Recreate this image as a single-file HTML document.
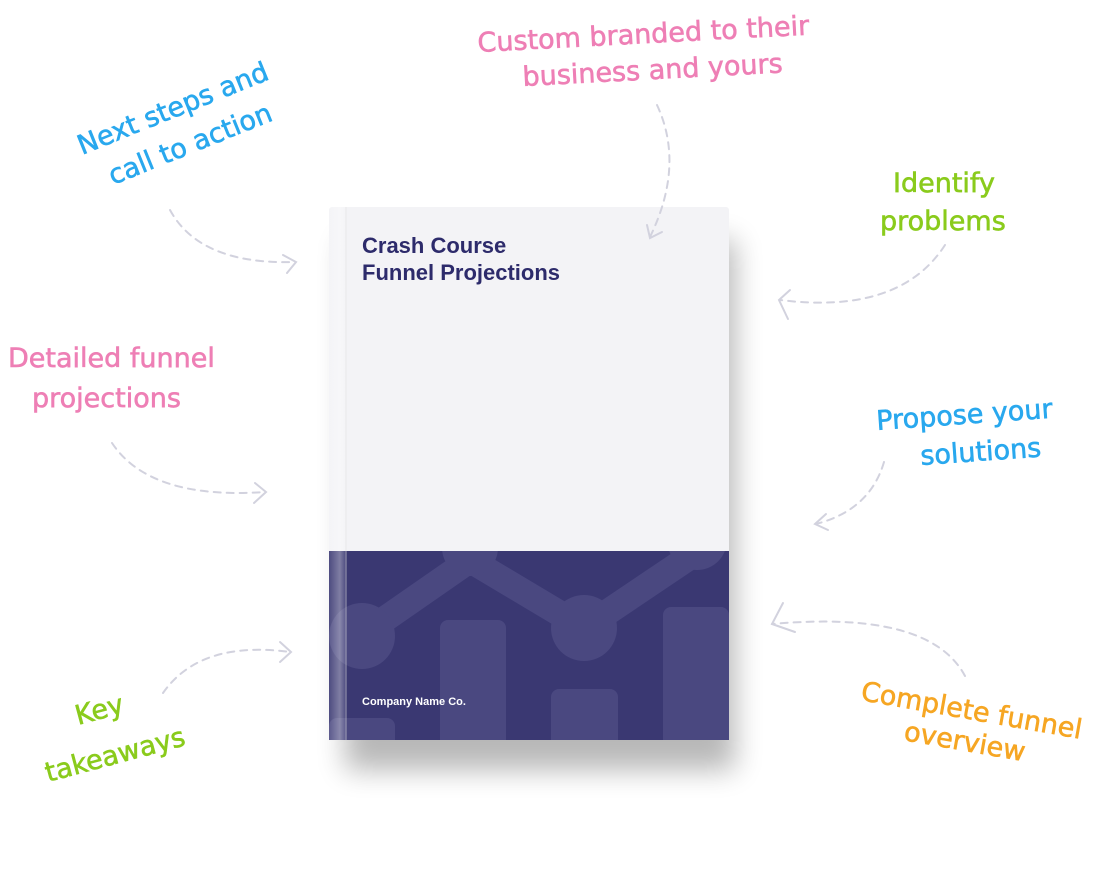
<!DOCTYPE html>
<html><head><style>
body{margin:0;background:#fff;width:1119px;height:891px;overflow:hidden}
svg{display:block}
.h{font-family:"DejaVu Sans","Liberation Sans",sans-serif;font-size:27px;font-weight:normal;stroke-width:0.6}
</style></head><body>
<svg width="1119" height="891" viewBox="0 0 1119 891">
<defs>
<filter id="sh" x="-30%" y="-20%" width="160%" height="150%"><feGaussianBlur stdDeviation="14"/></filter>
<clipPath id="nv"><rect x="329" y="551" width="400" height="189"/></clipPath>
<linearGradient id="sp" x1="0" x2="1"><stop offset="0" stop-color="#fff" stop-opacity="0.1"/><stop offset="0.6" stop-color="#fff" stop-opacity="0.35"/><stop offset="1" stop-color="#fff" stop-opacity="0.05"/></linearGradient>
</defs>
<rect x="345" y="240" width="390" height="530" fill="#000" opacity="0.28" filter="url(#sh)"/>
<rect x="329" y="207" width="400" height="533" rx="3" fill="#f3f3f6"/>
<rect x="329" y="551" width="400" height="189" fill="#3a3872"/>
<g clip-path="url(#nv)" fill="#4a4880" stroke="none">
<polyline points="362,635 470,560 584,628 697,552" fill="none" stroke="#4a4880" stroke-width="26"/>
<circle cx="362" cy="636" r="33"/><circle cx="584" cy="628" r="33"/><circle cx="470" cy="548" r="28"/><circle cx="697" cy="540" r="30"/>
<rect x="440" y="620" width="66" height="140" rx="8"/>
<rect x="551" y="689" width="67" height="70" rx="8"/>
<rect x="663" y="607" width="66" height="150" rx="8"/>
<rect x="329" y="718" width="66" height="40" rx="8"/>
</g>
<rect x="329" y="207" width="18" height="533" fill="url(#sp)"/>
<line x1="346" y1="207" x2="346" y2="740" stroke="#ddd" stroke-width="1" opacity="0.5"/>
<text x="362" y="253" font-family="Liberation Sans,sans-serif" font-weight="bold" font-size="22" fill="#2d2b6b">Crash Course</text>
<text x="362" y="280" font-family="Liberation Sans,sans-serif" font-weight="bold" font-size="22" fill="#2d2b6b">Funnel Projections</text>
<text x="362" y="705" font-family="Liberation Sans,sans-serif" font-weight="bold" font-size="11" fill="#fff">Company Name Co.</text>

<g fill="none" stroke="#d2d2de" stroke-width="2" stroke-dasharray="7 6" stroke-linecap="round">
<path d="M170 210 Q200 265 295 262"/><path d="M283 255 L296 262 L287 273" stroke-dasharray="none"/>
<path d="M657 105 Q685 165 650 237"/><path d="M647 225 L650 238 L662 232" stroke-dasharray="none"/>
<path d="M945 245 Q900 315 780 300"/><path d="M790 290 L779 300 L788 319" stroke-dasharray="none"/>
<path d="M112 443 Q150 500 265 492"/><path d="M255 483 L266 492 L254 503" stroke-dasharray="none"/>
<path d="M884 462 Q870 510 816 524"/><path d="M826 514 L815 524 L828 530" stroke-dasharray="none"/>
<path d="M163 693 Q200 640 290 652"/><path d="M280 642 L291 652 L280 662" stroke-dasharray="none"/>
<path d="M965 676 Q930 610 772 624"/><path d="M783 603 L772 624 L795 632" stroke-dasharray="none"/>
</g>

<g class="h">
<text fill="#29a8ee" stroke="#29a8ee" transform="translate(82,155) rotate(-22)">Next steps and</text>
<text fill="#29a8ee" stroke="#29a8ee" transform="translate(113,185) rotate(-22)">call to action</text>
<text fill="#ee7fb5" stroke="#ee7fb5" transform="translate(478,52) rotate(-3)">Custom branded to their</text>
<text fill="#ee7fb5" stroke="#ee7fb5" transform="translate(523,86) rotate(-3)">business and yours</text>
<text fill="#8acb1c" stroke="#8acb1c" x="893" y="192">Identify</text>
<text fill="#8acb1c" stroke="#8acb1c" x="880" y="230">problems</text>
<text fill="#ee7fb5" stroke="#ee7fb5" x="8" y="367">Detailed funnel</text>
<text fill="#ee7fb5" stroke="#ee7fb5" x="32" y="407">projections</text>
<text fill="#29a8ee" stroke="#29a8ee" transform="translate(877,430) rotate(-4)">Propose your</text>
<text fill="#29a8ee" stroke="#29a8ee" transform="translate(921,465) rotate(-4)">solutions</text>
<text fill="#8acb1c" stroke="#8acb1c" transform="translate(78,725) rotate(-15)">Key</text>
<text fill="#8acb1c" stroke="#8acb1c" transform="translate(48,782) rotate(-15)">takeaways</text>
<text fill="#f6a623" stroke="#f6a623" transform="translate(860,700) rotate(10)">Complete funnel</text>
<text fill="#f6a623" stroke="#f6a623" transform="translate(903,740) rotate(10)">overview</text>
</g>
</svg>
</body></html>
